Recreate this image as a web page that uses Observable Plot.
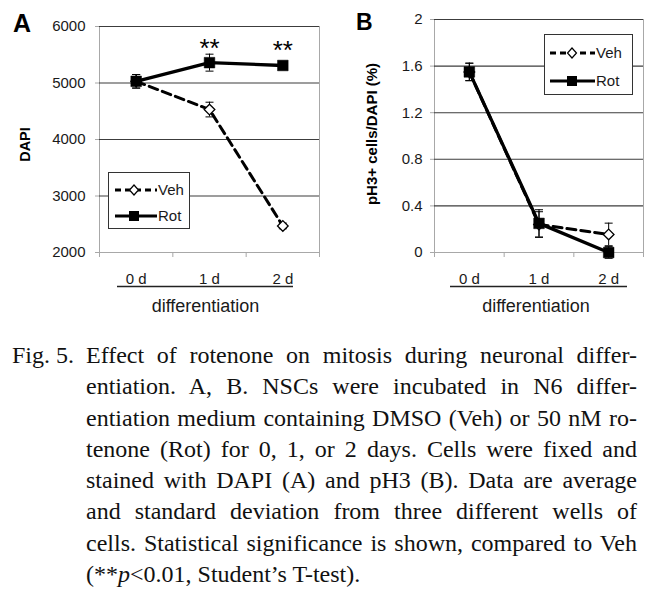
<!DOCTYPE html>
<html><head><meta charset="utf-8">
<script src="https://cdn.jsdelivr.net/npm/d3@7"></script>
<script src="https://cdn.jsdelivr.net/npm/@observablehq/plot@0.6"></script>
<style>
body{margin:0;background:#fff;}
#wrap{position:relative;width:665px;height:601px;overflow:hidden;font-family:"Liberation Sans",Arial,sans-serif;background:#fff;}
#overlay{position:absolute;left:0;top:0;pointer-events:none;}
.cap{position:absolute;font-family:"Liberation Serif","Times New Roman",serif;font-size:24px;line-height:31.3px;color:#111;}
.cap div{text-align:justify;text-align-last:justify;}
.cap div.last{text-align:left;text-align-last:left;}
</style></head>
<body><div id="wrap"></div>
<script>
// ---- data ----
const days = ["0 d", "1 d", "2 d"];
const seriesNames = ["Veh", "Rot"];
const dapiVeh = [5030, 4530, 2470];
const dapiVehErr = [120, 130, 50];
const dapiRot = [5030, 5360, 5310];
const dapiRotErr = [120, 150, 60];
const dapiSig = ["", "**", "**"];
const dapiTicks = [2000, 3000, 4000, 5000, 6000];
const ph3Veh = [1.55, 0.24, 0.155];
const ph3VehErr = [0.075, 0.11, 0.097];
const ph3Rot = [1.55, 0.25, 0.0];
const ph3RotErr = [0.075, 0.117, 0.05];
const ph3Ticks = [0, 0.4, 0.8, 1.2, 1.6, 2];
const ph3TickLabels = ["0", "0.4", "0.8", "1.2", "1.6", "2"];
const captionLabel = "Fig. 5.";
const captionLines = [
  "Effect of rotenone on mitosis during neuronal differ-",
  "entiation. A, B. NSCs were incubated in N6 differ-",
  "entiation medium containing DMSO (Veh) or 50 nM ro-",
  "tenone (Rot) for 0, 1, or 2 days. Cells were fixed and",
  "stained with DAPI (A) and pH3 (B). Data are average",
  "and standard deviation from three different wells of",
  "cells. Statistical significance is shown, compared to Veh",
  "(**|p|<0.01, Student\u2019s T-test)."
];

const rows = (vals, errs, s) => days.map((d, i) => ({i, day: d, v: vals[i], e: errs[i], s}));
const capSym = {draw(ctx) { ctx.moveTo(-4, 0); ctx.lineTo(4, 0); }};
const wrap = document.getElementById("wrap");

function panel(o) {
  const veh = rows(o.veh, o.vehErr, "Veh");
  const rot = rows(o.rot, o.rotErr, "Rot");
  const seriesMarks = (data, isVeh) => [
    Plot.line(data, {x: "i", y: "v", stroke: "#000", strokeWidth: isVeh ? 3 : 3.3, strokeDasharray: isVeh ? "9,5" : null}),
    Plot.ruleX(data, {x: "i", y1: d => d.v - d.e, y2: d => d.v + d.e, stroke: "#000", strokeWidth: 1}),
    Plot.dot(data, {x: "i", y: d => d.v + d.e, symbol: capSym, r: 4, stroke: "#000", fill: "none", strokeWidth: 1}),
    Plot.dot(data, {x: "i", y: d => d.v - d.e, symbol: capSym, r: 4, stroke: "#000", fill: "none", strokeWidth: 1}),
    isVeh
      ? Plot.dot(data, {x: "i", y: "v", symbol: "diamond2", r: 4.8, fill: "#fff", stroke: "#000", strokeWidth: 1.3})
      : Plot.dot(data, {x: "i", y: "v", symbol: "square", r: 6, fill: "#000", stroke: "#000", strokeWidth: 0.5})
  ];
  const svg = Plot.plot({
    width: o.width, height: 320,
    marginLeft: o.ml, marginRight: o.mr, marginTop: o.mt, marginBottom: 68,
    style: {fontFamily: "Liberation Sans, Arial, sans-serif", fontSize: "15px", color: "#1a1a1a", background: "transparent", overflow: "visible"},
    x: {type: "linear", domain: [-0.5, 2.5]},
    y: {domain: [o.ticks[0], o.ticks[o.ticks.length - 1]]},
    marks: [
      Plot.frame({stroke: "#a8a8a8"}),
      Plot.ruleY(o.ticks.slice(1), {stroke: "#3c3c3c", strokeWidth: 1.1}),
      Plot.axisY({ticks: o.ticks, tickFormat: o.fmt, tickSize: 4, tickPadding: o.tp, stroke: "#a8a8a8", fill: "#1a1a1a", fontSize: 15, label: null}),
      Plot.axisX({ticks: [-0.5, 0.5, 1.5, 2.5], tickFormat: () => "", tickSize: 5, stroke: "#a8a8a8", label: null}),
      Plot.axisX({ticks: [0, 1, 2], tickFormat: i => days[i], tickSize: 0, tickPadding: 21, fontSize: 15, fill: "#1a1a1a", label: null}),
      ...seriesMarks(veh, true),
      ...seriesMarks(rot, false),
      o.sig ? Plot.text(rot.filter((d, k) => o.sig[k]), {x: "i", y: "v", text: (d) => o.sig[d.i], lineAnchor: "bottom", dy: -6, fontSize: 26, fill: "#000"}) : null,
      Plot.text([o.ylabel], {frameAnchor: "left", textAnchor: "middle", rotate: -90, dx: o.ylx, dy: o.yly, fontSize: o.ylfs, fontWeight: "bold", fill: "#000"}),
      Plot.text(["differentiation"], {frameAnchor: "bottom", textAnchor: "middle", dx: o.xlx, dy: 59, fontSize: 18, fill: "#1a1a1a"})
    ]
  });
  svg.style.position = "absolute";
  svg.style.left = o.left + "px";
  svg.style.top = "0px";
  wrap.appendChild(svg);
}

panel({left: 0, width: 330, ml: 99, mr: 11, mt: 26, ticks: dapiTicks, fmt: d => String(d), tp: 10,
  veh: dapiVeh, vehErr: dapiVehErr, rot: dapiRot, rotErr: dapiRotErr, sig: dapiSig,
  ylabel: "DAPI", ylx: -74, yly: 5, ylfs: 14.5, xlx: -4});
panel({left: 330, width: 335, ml: 104, mr: 22, mt: 19, ticks: ph3Ticks, fmt: d => ph3TickLabels[ph3Ticks.indexOf(d)], tp: 8,
  veh: ph3Veh, vehErr: ph3VehErr, rot: ph3Rot, rotErr: ph3RotErr, sig: null,
  ylabel: "pH3+ cells/DAPI (%)", ylx: -62, yly: -2, ylfs: 15, xlx: -3});

// ---- overlay: panel letters, legends, category underline ----
const ov = d3.select(wrap).append("svg").attr("id", "overlay").attr("width", 665).attr("height", 601)
  .style("font-family", "Liberation Sans, Arial, sans-serif");
ov.append("text").attr("x", 13).attr("y", 32).attr("font-size", 25).attr("font-weight", "bold").text("A");
ov.append("text").attr("x", 356).attr("y", 30).attr("font-size", 23).attr("font-weight", "bold").text("B");
[[117, 293], [450, 627]].forEach(([a, b]) => ov.append("line").attr("x1", a).attr("x2", b).attr("y1", 286.5).attr("y2", 286.5).attr("stroke", "#222").attr("stroke-width", 1.5));

function legend(x, y, w, h, rowY, lx1, lx2, mx, tx) {
  const g = ov.append("g");
  g.append("rect").attr("x", x + 0.5).attr("y", y + 0.5).attr("width", w).attr("height", h).attr("fill", "#fff").attr("stroke", "#333").attr("stroke-width", 1);
  seriesNames.forEach((name, k) => {
    const yy = rowY[k];
    g.append("line").attr("x1", lx1).attr("x2", lx2).attr("y1", yy).attr("y2", yy).attr("stroke", "#000").attr("stroke-width", 3)
      .attr("stroke-dasharray", name === "Veh" ? "6,4" : null);
    if (name === "Veh") g.append("path").attr("d", `M${mx},${yy - 5}L${mx + 4.5},${yy}L${mx},${yy + 5}L${mx - 4.5},${yy}Z`).attr("fill", "#fff").attr("stroke", "#000").attr("stroke-width", 1.2);
    else g.append("rect").attr("x", mx - 5).attr("y", yy - 5).attr("width", 10).attr("height", 10).attr("fill", "#000");
    g.append("text").attr("x", tx).attr("y", yy).attr("dy", "0.36em").attr("font-size", 15).attr("fill", "#1a1a1a").text(name);
  });
}
legend(108, 172, 81, 56, [190, 216], 115, 157, 134, 158);
legend(544, 34, 88, 60, [53, 81], 550, 595, 572, 596);

// ---- caption ----
const lab = document.createElement("div");
lab.className = "cap"; lab.style.left = "12px"; lab.style.top = "340px"; lab.textContent = captionLabel;
wrap.appendChild(lab);
const cap = document.createElement("div");
cap.className = "cap"; cap.style.left = "86px"; cap.style.top = "340px"; cap.style.width = "551px";
captionLines.forEach((t, k) => {
  const d = document.createElement("div");
  if (k === captionLines.length - 1) {
    d.className = "last";
    const parts = t.split("|");
    d.appendChild(document.createTextNode(parts[0]));
    const it = document.createElement("i"); it.textContent = parts[1]; d.appendChild(it);
    d.appendChild(document.createTextNode(parts[2]));
  } else d.textContent = t;
  cap.appendChild(d);
});
wrap.appendChild(cap);
</script>
</body></html>
